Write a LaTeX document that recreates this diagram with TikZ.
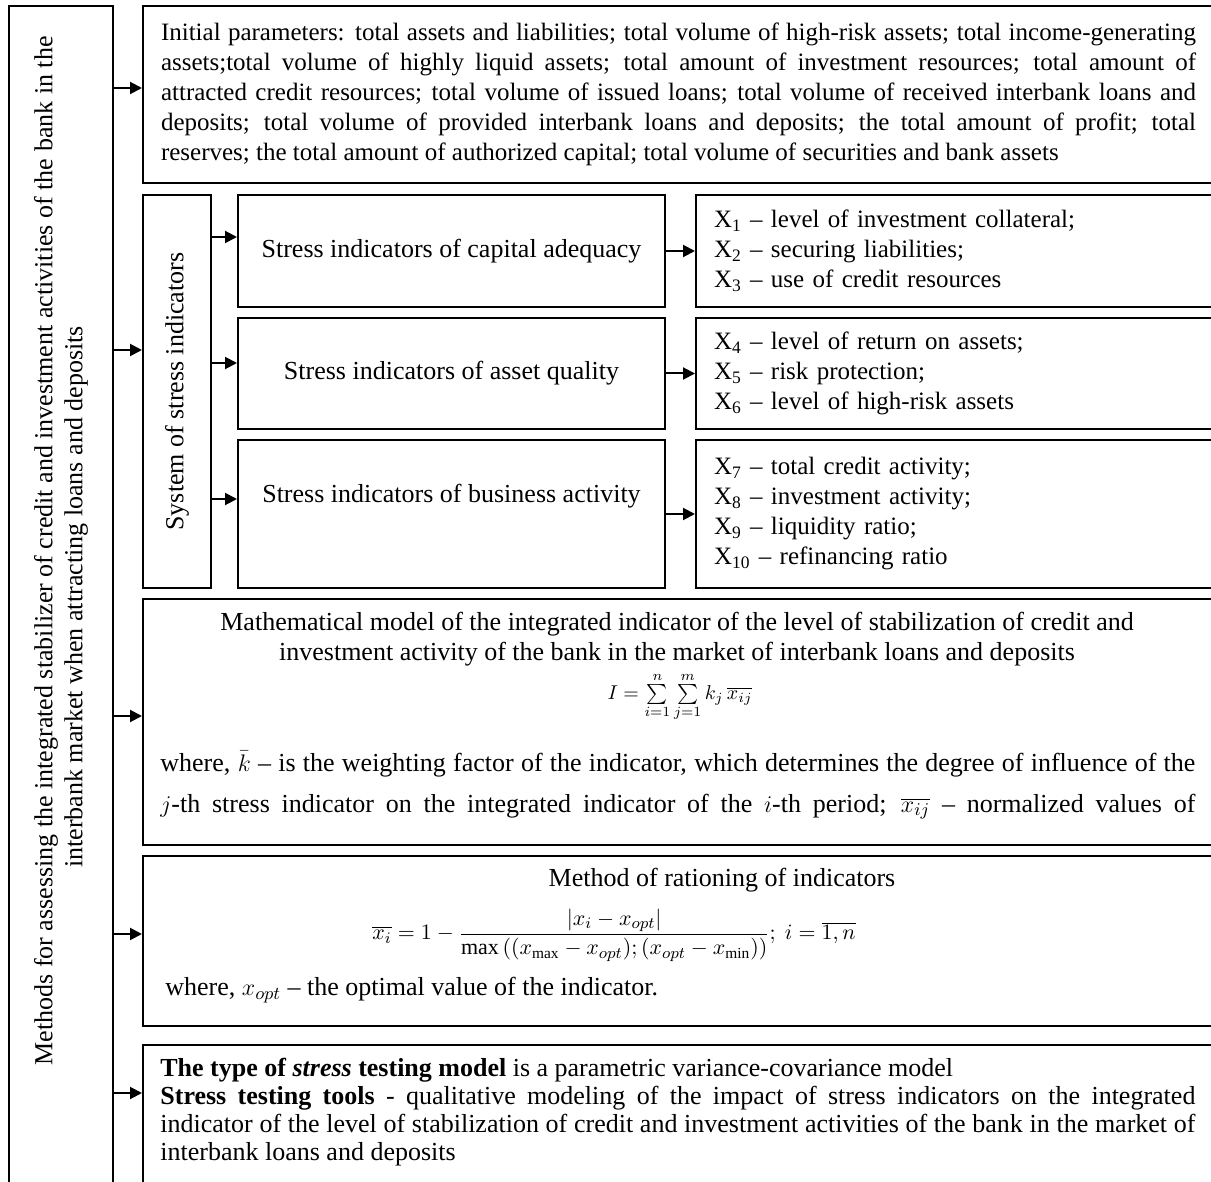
\documentclass[tikz,border=0pt]{standalone}
\usepackage{fontspec}
\setmainfont{Liberation Serif}
\usetikzlibrary{arrows.meta, positioning}
\tikzset{
  frame/.style={draw, line width=1pt, inner sep=0pt, anchor=north west},
  boxtext/.style={inner sep=0pt, font=\fontsize{13}{15}\selectfont},
  itemtext/.style={inner sep=0pt, font=\fontsize{12.5}{15}\selectfont},
  formula/.style={inner sep=0pt, font=\fontsize{#1}{12}\selectfont},
  formula/.default=10,
  arr/.style={-{Triangle[length=6pt, width=6pt]}, line width=1pt},
}

\begin{document}
\begin{tikzpicture}[x=0.5pt, y=-0.5pt]
  \useasboundingbox (0,0) rectangle (1211,1182);
  \clip (0,0) rectangle (1211,1182);

  % left column
  \node[frame, minimum width=52pt, minimum height=597.5pt] (methods) at (8,5) {};
  \node[boxtext, rotate=90, align=center] (methodsname) at (61,551)
       {Methods for assessing the integrated stabilizer of credit and investment activities of the bank in the\\
        interbank market when attracting loans and deposits\hspace*{46pt}};

  % initial parameters
  \node[frame, itemtext, text width=517.5pt, inner xsep=9pt, minimum height=88.5pt, align=justify] (params) at (142,5)
       {Initial parameters: total assets and liabilities; total volume of high-risk assets; total income-generating\linebreak
        assets;total volume of highly liquid assets; total amount of investment resources; total amount of\linebreak
        attracted credit resources; total volume of issued loans; total volume of received interbank loans and\linebreak
        deposits; total volume of provided interbank loans and deposits; the total amount of profit; total\linebreak
        reserves; the total amount of authorized capital; total volume of securities and bank assets};

  % system of stress indicators
  \node[frame, minimum width=34pt, minimum height=196.5pt] (sys) at (142,194) {};
  \node[boxtext, rotate=90] (sysname) at (sys.center) {System of stress indicators};

  \node[frame, boxtext, minimum width=213.5pt, minimum height=56pt] (cap) at (237,194)
       {Stress indicators of capital adequacy};
  \node[frame, boxtext, minimum width=213.5pt, minimum height=55.5pt] (asset) at (237,317)
       {Stress indicators of asset quality};
  \node[frame, boxtext, minimum width=213.5pt, minimum height=74pt, text depth=21pt] (busi) at (237,439)
       {Stress indicators of business activity};

  \node[frame, itemtext, text width=241pt, inner xsep=9pt, minimum height=56pt, align=left] (xcap) at (695,194)
       {X\textsubscript{1} – level of investment collateral;\\
        X\textsubscript{2} – securing liabilities;\\
        X\textsubscript{3} – use of credit resources};
  \node[frame, itemtext, text width=241pt, inner xsep=9pt, minimum height=55.5pt, align=left] (xasset) at (695,317)
       {X\textsubscript{4} – level of return on assets;\\
        X\textsubscript{5} – risk protection;\\
        X\textsubscript{6} – level of high-risk assets};
  \node[frame, itemtext, text width=241pt, inner xsep=9pt, minimum height=74pt, align=left] (xbusi) at (695,439)
       {X\textsubscript{7} – total credit activity;\\
        X\textsubscript{8} – investment activity;\\
        X\textsubscript{9} – liquidity ratio;\\
        X\textsubscript{10} – refinancing ratio};

  % mathematical model
  \node[frame, minimum width=535.5pt, minimum height=123pt] (model) at (142,598) {};
  \node[boxtext, align=center] (modeltitle) at (677,639)
       {Mathematical model of the integrated indicator of the level of stabilization of credit and\\
        investment activity of the bank in the market of interbank loans and deposits};
  \node[formula] (modelformula) at (680,697)
       {$I=\sum\limits_{i=1}^{n}\sum\limits_{j=1}^{m}k_j\,\overline{x_{ij}}$};
  \node[boxtext, anchor=north west, text width=517.5pt, align=justify, font=\fontsize{13}{20.5}\selectfont] (modelnote) at (160,751)
       {where, $\bar{k}$ – is the weighting factor of the indicator, which determines the degree of influence of the\linebreak
        $j$-th stress indicator on the integrated indicator of the $i$-th period; $\overline{x_{ij}}$ – normalized values of\linebreak\mbox{}};

  % rationing
  \node[frame, minimum width=535.5pt, minimum height=85pt] (norm) at (142,855) {};
  \node[boxtext] (normtitle) at (722,880) {Method of rationing of indicators};
  \node[formula=11] (normformula) at (614,935)
       {$\displaystyle \overline{x_i}=1-\frac{\left|x_i-x_{opt}\right|}{\max\left((x_{\max}-x_{opt});(x_{opt}-x_{\min})\right)};\ i=\overline{1,n}$};
  \node[boxtext, anchor=west] (normnote) at (165,990) {where, $x_{opt}$ – the optimal value of the indicator.};

  % stress testing
  \node[frame, minimum width=535.5pt, minimum height=80pt] (tools) at (142,1044) {};
  \node[boxtext, anchor=north west, text width=517.5pt, align=justify, font=\fontsize{13}{14}\selectfont] (toolstext) at (160,1058)
       {\textbf{The type of \textit{stress} testing model} is a parametric variance-covariance model\\
        \textbf{Stress testing tools} - qualitative modeling of the impact of stress indicators on the integrated\linebreak
        indicator of the level of stabilization of credit and investment activities of the bank in the market of\linebreak
        interbank loans and deposits};

  % connectors
  \foreach \target/\lev in {params/88, sys/350, model/716, norm/934, tools/1093}
    \draw[arr] (methods.east |- 0,\lev) -- (\target.west |- 0,\lev);
  \foreach \target/\lev in {cap/237, asset/363, busi/499}
    \draw[arr] (sys.east |- 0,\lev) -- (\target.west |- 0,\lev);
  \foreach \from/\to in {cap/xcap, asset/xasset, busi/xbusi}
    \draw[arr] (\from.east) -- (\to.west);
\end{tikzpicture}
\end{document}
